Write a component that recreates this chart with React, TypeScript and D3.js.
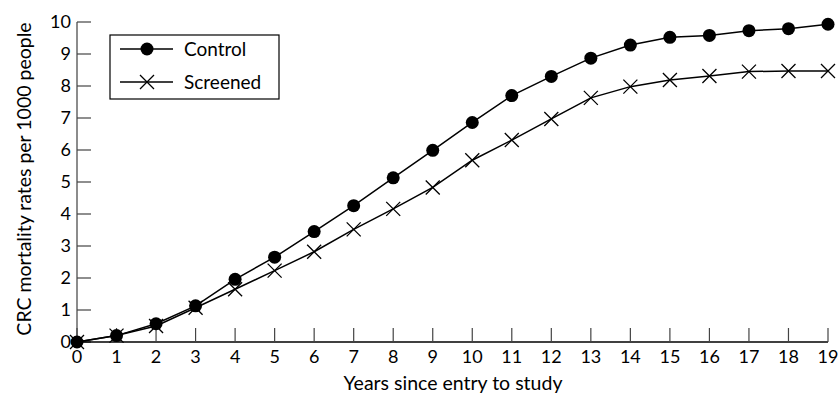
import React, { useEffect, useRef } from 'react';
import * as d3 from 'd3';

const years = [0, 1, 2, 3, 4, 5, 6, 7, 8, 9, 10, 11, 12, 13, 14, 15, 16, 17, 18, 19];
const control = [0, 0.2, 0.57, 1.13, 1.96, 2.65, 3.45, 4.26, 5.13, 5.99, 6.86, 7.7, 8.3, 8.87, 9.28, 9.52, 9.58, 9.73, 9.79, 9.93];
const screened = [0, 0.2, 0.5, 1.07, 1.65, 2.23, 2.82, 3.52, 4.16, 4.83, 5.68, 6.31, 6.97, 7.63, 7.98, 8.19, 8.31, 8.45, 8.47, 8.47];
const yTicks = [0, 1, 2, 3, 4, 5, 6, 7, 8, 9, 10];
const seriesNames = ['Control', 'Screened'];

export default function App() {
  const svgRef = useRef<SVGSVGElement>(null);

  useEffect(() => {
    document.body.style.margin = '0';
    const w = 839;
    const h = 393;
    const font = 'Lato, "DejaVu Sans", sans-serif';
    const svg = d3.select(svgRef.current).attr('width', w).attr('height', h);
    svg.selectAll('*').remove();

    // scales
    const x = d3.scaleLinear().domain([0, 19]).range([77, 828]);
    const y = d3.scaleLinear().domain([0, 10]).range([342, 22]);

    // y axis (ticks point inward)
    const yAxis = svg.append('g');
    yAxis.append('line')
      .attr('x1', x(0)).attr('x2', x(0))
      .attr('y1', y(0)).attr('y2', y(10))
      .attr('stroke', '#666').attr('stroke-width', 1.5);
    yAxis.selectAll('.yt')
      .data(yTicks)
      .join('line')
      .attr('x1', x(0)).attr('x2', x(0) + 14)
      .attr('y1', (d) => y(d)).attr('y2', (d) => y(d))
      .attr('stroke', '#444').attr('stroke-width', 1.2);
    yAxis.selectAll('.yl')
      .data(yTicks)
      .join('text')
      .attr('x', x(0) - 6)
      .attr('y', (d) => y(d))
      .attr('dy', '0.35em')
      .attr('text-anchor', 'end')
      .style('font-family', font)
      .style('font-size', '18px')
      .text((d) => d);

    // x axis
    const xAxis = svg.append('g');
    xAxis.append('line')
      .attr('x1', x(0)).attr('x2', x(19))
      .attr('y1', y(0)).attr('y2', y(0))
      .attr('stroke', '#000').attr('stroke-width', 1.5);
    xAxis.selectAll('.xt')
      .data(years)
      .join('line')
      .attr('x1', (d) => x(d)).attr('x2', (d) => x(d))
      .attr('y1', y(0)).attr('y2', y(0) - 14)
      .attr('stroke', '#444').attr('stroke-width', 1.2);
    xAxis.selectAll('.xl')
      .data(years)
      .join('text')
      .attr('x', (d) => x(d))
      .attr('y', y(0) + 15)
      .attr('dy', '0.35em')
      .attr('text-anchor', 'middle')
      .style('font-family', font)
      .style('font-size', '18px')
      .text((d) => d);

    // axis titles
    svg.append('text')
      .attr('x', 453).attr('y', 390)
      .attr('text-anchor', 'middle')
      .style('font-family', font)
      .style('font-size', '19.5px')
      .text('Years since entry to study');
    svg.append('text')
      .attr('transform', 'translate(31,179) rotate(-90)')
      .attr('text-anchor', 'middle')
      .style('font-family', font)
      .style('font-size', '19.5px')
      .text('CRC mortality rates per 1000 people');

    const line = d3.line<number>()
      .x((d, i) => x(years[i]))
      .y((d) => y(d));

    const cross = (g: any, cx: number, cy: number, s: number) => {
      g.append('path')
        .attr('d', `M${cx - s},${cy - s}L${cx + s},${cy + s}M${cx - s},${cy + s}L${cx + s},${cy - s}`)
        .attr('stroke', '#000').attr('stroke-width', 1.3).attr('fill', 'none');
    };

    // screened
    svg.append('path')
      .datum(screened)
      .attr('d', line)
      .attr('fill', 'none')
      .attr('stroke', '#000')
      .attr('stroke-width', 1.5);
    const sg = svg.append('g');
    screened.forEach((v, i) => cross(sg, x(years[i]), y(v), 7));

    // control
    svg.append('path')
      .datum(control)
      .attr('d', line)
      .attr('fill', 'none')
      .attr('stroke', '#000')
      .attr('stroke-width', 1.5);
    svg.selectAll('.dot')
      .data(control)
      .join('circle')
      .attr('cx', (d, i) => x(years[i]))
      .attr('cy', (d) => y(d))
      .attr('r', 6.5)
      .attr('fill', '#000');

    // legend
    const lg = svg.append('g');
    lg.append('rect')
      .attr('x', 110).attr('y', 35)
      .attr('width', 169).attr('height', 64)
      .attr('fill', '#fff').attr('stroke', '#000').attr('stroke-width', 1.2);
    seriesNames.forEach((name, i) => {
      const ly = 49 + i * 33;
      lg.append('line')
        .attr('x1', 120).attr('x2', 173)
        .attr('y1', ly).attr('y2', ly)
        .attr('stroke', '#000').attr('stroke-width', 1.5);
      if (i === 0) {
        lg.append('circle').attr('cx', 147).attr('cy', ly).attr('r', 6.5).attr('fill', '#000');
      } else {
        cross(lg, 147, ly, 7);
      }
      lg.append('text')
        .attr('x', 184).attr('y', ly)
        .attr('dy', '0.35em')
        .style('font-family', font)
        .style('font-size', '19px')
        .text(name);
    });
  }, []);

  return <svg ref={svgRef} style={{ display: 'block' }}></svg>;
}
